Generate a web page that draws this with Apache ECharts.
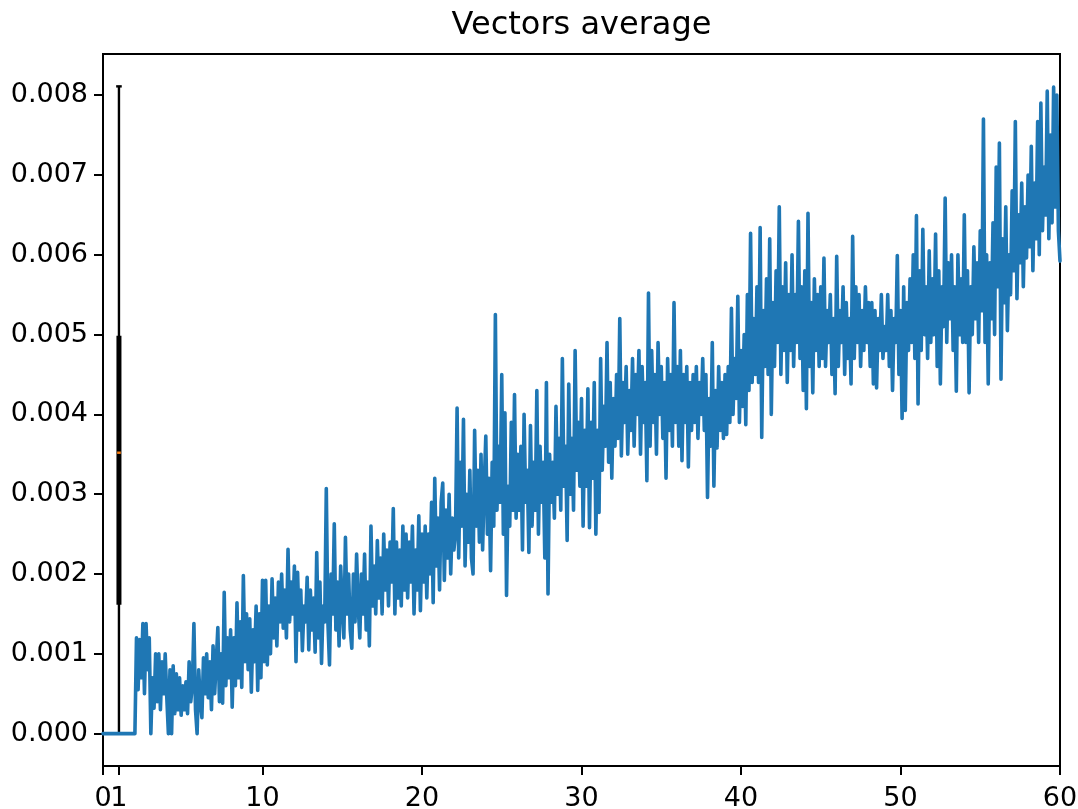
<!DOCTYPE html>
<html>
<head>
<meta charset="utf-8">
<script src="https://cdn.jsdelivr.net/npm/echarts@6/dist/echarts.min.js"></script>
<style>html,body{margin:0;padding:0;background:#fff}#chart{width:1078px;height:809px}</style>
</head>
<body>
<div id="chart"></div>
<script>
// ---- data ----
const titleText = 'Vectors average';
const xTicks = [0, 10, 20, 30, 40, 50, 60];
const xTicksExtra = [1];
const yTicks = [0, 0.001, 0.002, 0.003, 0.004, 0.005, 0.006, 0.007, 0.008];
// x positions of the averaged line: step 0.1 from 0 to 60
const xStart = 0, xStep = 0.1;
// line values, in thousandths (x 0.001); one row per unit of x
const avgMilli = [
  0,0,0,0,0,0,0,0,0,0,0,0,0,0,0,0,0,0,0,0,0,
  1.2,0.55,1.18,0.7,1.38,0.5,1.38,0.8,1.2,0.0,
  0.7,0.32,1.0,0.4,1.0,0.3,0.9,0.5,1.0,0.45,
  0.0,0.8,0.0,0.85,0.25,0.75,0.3,0.7,0.23,0.6,
  0.3,0.65,0.25,0.9,0.4,0.6,1.38,0.3,0.0,0.8,
  0.4,0.2,0.95,0.5,1.0,0.45,0.9,0.3,1.1,0.5,
  0.9,1.33,0.4,1.0,0.38,1.77,0.6,1.2,0.7,1.3,
  0.33,1.2,0.6,1.64,0.7,1.4,0.58,1.98,0.9,1.5,
  0.8,1.44,0.52,1.3,0.9,1.6,0.54,1.5,0.7,1.92,
  0.9,1.92,0.86,1.6,1.0,1.94,1.2,1.7,1.1,1.9,
  1.4,2.0,1.32,1.8,1.2,2.31,1.4,1.9,1.5,2.1,
  0.9,2.02,1.3,1.8,1.04,1.6,1.4,1.96,1.05,1.8,
  1.3,1.7,1.02,2.27,1.2,1.9,0.88,1.6,1.4,3.07,
  1.4,0.86,2.0,1.5,2.63,1.3,1.9,1.1,2.1,1.6,
  1.2,2.46,1.5,2.0,1.3,1.07,2.0,1.4,2.25,1.6,
  1.2,2.0,1.5,2.25,1.3,1.9,1.1,2.6,1.6,2.1,
  1.5,2.42,1.7,2.2,1.5,2.5,1.8,2.3,1.6,2.4,
  1.9,2.82,1.5,2.4,1.7,2.3,1.6,2.6,1.8,2.5,
  1.7,2.4,1.9,2.6,1.5,2.3,1.8,2.73,1.54,2.5,
  1.9,2.6,1.7,2.5,2.0,2.9,1.64,3.2,2.1,2.7,
  1.8,2.9,3.14,1.92,2.8,2.2,3.0,2.0,2.7,2.3,
  2.5,4.08,2.2,3.4,2.6,3.94,2.1,3.0,2.4,3.3,
  2.2,2.0,3.8,2.6,3.3,2.4,3.5,2.3,3.1,3.73,
  2.5,3.2,2.04,3.4,2.6,5.25,2.8,3.6,2.9,4.5,
  2.5,4.02,1.73,3.1,2.6,3.9,2.8,4.25,2.7,3.5,
  2.8,3.6,2.3,4.0,2.9,3.3,2.27,3.86,2.6,3.4,
  2.8,4.3,2.5,3.6,2.9,3.4,2.2,4.4,1.75,3.5,
  2.9,3.4,2.7,4.1,3.0,3.7,2.8,4.7,3.1,3.6,
  2.42,4.38,3.0,3.7,2.8,4.8,3.3,3.9,3.1,4.2,
  2.6,3.8,3.1,4.32,2.58,3.9,3.2,4.4,2.5,3.8,
  2.77,4.7,3.3,4.1,3.6,4.9,3.4,4.4,3.2,4.2,
  3.6,4.5,3.7,5.2,3.48,4.4,3.9,4.6,3.5,4.3,
  3.8,4.7,3.6,4.5,4.0,4.8,3.5,4.6,3.9,4.4,
  3.17,5.52,3.6,4.8,3.9,4.5,3.5,4.9,4.0,4.6,
  3.7,4.4,3.2,4.7,3.8,4.5,3.6,5.4,3.9,4.6,
  3.6,4.8,3.42,4.5,3.9,4.6,3.34,4.4,3.8,4.5,
  3.9,4.6,3.7,4.4,4.0,4.7,3.8,4.5,2.96,4.2,
  3.6,4.9,3.1,4.3,3.58,4.6,3.8,4.4,3.7,4.5,
  3.75,4.6,3.9,5.33,4.0,4.7,4.2,5.48,3.9,4.8,
  4.1,5.0,3.87,5.5,4.3,6.27,4.4,5.2,4.5,5.6,
  4.4,6.34,3.71,5.3,4.6,5.7,4.5,6.2,4.0,5.4,
  4.6,5.8,4.9,6.6,4.5,5.6,4.8,5.9,4.4,5.5,
  4.8,6.0,4.6,5.5,4.9,6.42,4.7,5.6,4.3,5.8,
  4.07,6.52,4.6,5.4,4.27,5.7,4.8,5.5,4.6,5.6,
  4.7,5.96,4.6,5.3,4.9,5.5,4.5,5.2,4.26,5.98,
  4.6,5.3,4.9,5.6,4.5,5.4,4.7,5.2,4.38,6.23,
  4.7,5.6,4.9,5.5,4.6,5.3,4.8,5.6,4.9,5.4,
  4.6,5.4,4.38,5.3,4.33,5.2,4.8,5.5,4.7,5.1,
  4.8,5.5,4.6,5.3,4.3,5.2,4.9,5.99,4.5,5.3,
  3.95,5.6,4.05,5.4,4.8,5.7,4.9,6.0,4.7,6.49,
  4.13,5.8,4.8,6.32,5.0,5.6,4.7,6.05,4.9,5.7,
  5.0,6.26,4.6,5.8,4.38,5.6,5.1,6.71,4.9,5.9,
  5.2,6.0,4.8,5.6,4.29,6.0,5.0,5.7,4.9,6.5,
  4.9,5.8,4.27,5.6,5.0,6.1,5.2,5.9,4.9,6.3,
  5.3,7.7,4.9,6.0,4.38,5.9,5.2,6.4,5.0,7.1,
  5.6,7.4,4.44,6.2,5.4,6.6,5.05,6.0,5.5,6.8,
  5.8,7.67,5.45,6.5,5.9,6.9,5.6,6.6,5.96,7.0,
  6.1,7.36,5.8,6.9,6.2,7.67,6.0,7.9,6.3,7.1,
  6.5,8.05,6.2,7.5,6.4,8.1,6.6,8.0,6.3,5.92
];
// box plot at position 1: [position, lowWhisker, Q1, median, Q3, highWhisker]
const boxStats = [1, 0.0, 0.00163, 0.00352, 0.00497, 0.00811];

// ---- build ----
const lineData = avgMilli.map((v, i) => [+(xStart + i * xStep).toFixed(1), v / 1000]);

const chart = echarts.init(document.getElementById('chart'), null, {renderer: 'canvas'});
const FONT = 'DejaVu Sans';
const xLabelStyle = {margin: 19, hideOverlap: false, showMinLabel: true, showMaxLabel: true,
  fontFamily: FONT, fontSize: 27, color: '#000', formatter: v => String(v)};
const option = {
  animation: false,
  backgroundColor: '#fff',
  title: {
    text: titleText,
    left: 576.5,
    textAlign: 'center',
    top: 5,
    textStyle: {fontFamily: FONT, fontSize: 32, fontWeight: 'normal', color: '#000'}
  },
  grid: {
    left: 103, right: 18, top: 54, bottom: 43, outerBoundsMode: 'none', containLabel: false,
    show: true, borderColor: '#000', borderWidth: 2, backgroundColor: 'transparent'
  },
  xAxis: [{
    type: 'value', min: 0, max: 60, position: 'bottom',
    splitLine: {show: false},
    axisLine: {show: true, onZero: false, lineStyle: {color: '#000', width: 2}},
    axisTick: {show: true, length: 9, customValues: xTicks, lineStyle: {color: '#000', width: 2}},
    axisLabel: Object.assign({customValues: xTicks}, xLabelStyle)
  }, {
    type: 'value', min: 0, max: 60, position: 'bottom', offset: 0,
    splitLine: {show: false},
    axisLine: {show: false, onZero: false},
    axisTick: {show: true, length: 9, customValues: xTicksExtra, lineStyle: {color: '#000', width: 2}},
    axisLabel: Object.assign({customValues: xTicksExtra}, xLabelStyle)
  }],
  yAxis: {
    type: 'value', min: -0.0004055, max: 0.0085155,
    splitLine: {show: false},
    axisLine: {show: true, onZero: false, lineStyle: {color: '#000', width: 2}},
    axisTick: {show: true, length: 9, customValues: yTicks, lineStyle: {color: '#000', width: 2}},
    axisLabel: {customValues: yTicks, margin: 15, hideOverlap: false, fontFamily: FONT, fontSize: 27, color: '#000',
      formatter: v => v.toFixed(3)}
  },
  series: [
    {
      type: 'custom',
      xAxisIndex: 0,
      data: [boxStats],
      z: 1,
      renderItem: function (params, api) {
        const x = api.value(0);
        const pLow = api.coord([x, api.value(1)]);
        const pQ1 = api.coord([x, api.value(2)]);
        const pMed = api.coord([x, api.value(3)]);
        const pQ3 = api.coord([x, api.value(4)]);
        const pHigh = api.coord([x, api.value(5)]);
        const cx = pLow[0];
        const boxW = 2.6, halfCap = 2.8;
        const black = {stroke: '#000', lineWidth: 2.4, fill: null};
        return {
          type: 'group',
          children: [
            {type: 'line', shape: {x1: cx, y1: pLow[1], x2: cx, y2: pQ1[1]}, style: black},
            {type: 'line', shape: {x1: cx, y1: pQ3[1], x2: cx, y2: pHigh[1]}, style: black},
            {type: 'line', shape: {x1: cx - halfCap, y1: pHigh[1], x2: cx + halfCap, y2: pHigh[1]}, style: black},
            {type: 'line', shape: {x1: cx - halfCap, y1: pLow[1], x2: cx + halfCap, y2: pLow[1]}, style: black},
            {type: 'rect', shape: {x: cx - boxW / 2, y: pQ3[1], width: boxW, height: pQ1[1] - pQ3[1]},
              style: {stroke: '#000', lineWidth: 2.4, fill: '#000'}},
            {type: 'line', shape: {x1: cx - 1.8, y1: pMed[1], x2: cx + 1.8, y2: pMed[1]},
              style: {stroke: '#ff7f0e', lineWidth: 2.4}}
          ]
        };
      }
    },
    {
      type: 'line',
      xAxisIndex: 0,
      data: lineData,
      z: 2,
      showSymbol: false,
      symbol: 'none',
      smooth: false,
      lineStyle: {color: '#1f77b4', width: 3.6, join: 'round', cap: 'round'},
      itemStyle: {color: '#1f77b4'}
    }
  ]
};
chart.setOption(option);
</script>
</body>
</html>
